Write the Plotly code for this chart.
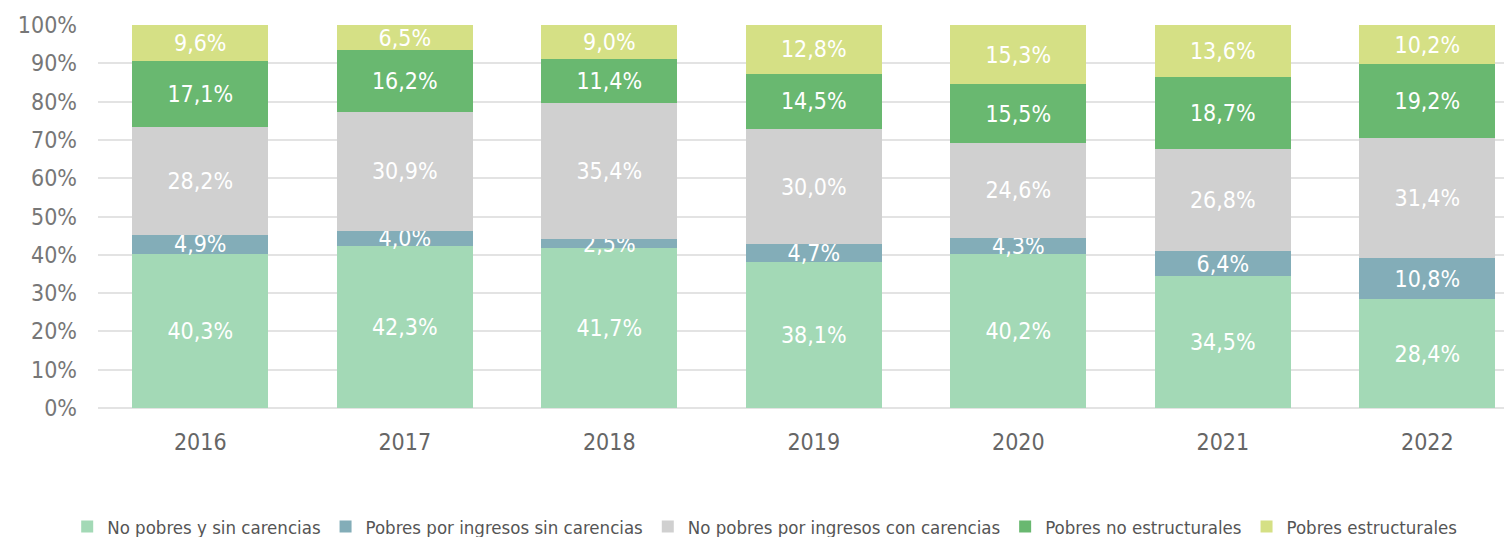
import plotly.graph_objects as go

years = ["2016", "2017", "2018", "2019", "2020", "2021", "2022"]
series_names = [
    "No pobres y sin carencias",
    "Pobres por ingresos sin carencias",
    "No pobres por ingresos con carencias",
    "Pobres no estructurales",
    "Pobres estructurales",
]
no_pobres_sin_carencias = [40.3, 42.3, 41.7, 38.1, 40.2, 34.5, 28.4]
pobres_ingresos_sin_carencias = [4.9, 4.0, 2.5, 4.7, 4.3, 6.4, 10.8]
no_pobres_con_carencias = [28.2, 30.9, 35.4, 30.0, 24.6, 26.8, 31.4]
pobres_no_estructurales = [17.1, 16.2, 11.4, 14.5, 15.5, 18.7, 19.2]
pobres_estructurales = [9.6, 6.5, 9.0, 12.8, 15.3, 13.6, 10.2]
colors = ["#a3d9b6", "#83adb8", "#d0d0d0", "#69b870", "#d5e085"]

all_series = [no_pobres_sin_carencias, pobres_ingresos_sin_carencias,
              no_pobres_con_carencias, pobres_no_estructurales, pobres_estructurales]

FONT = "DejaVu Sans Condensed, Liberation Sans Narrow, sans-serif"

fig = go.Figure()
for name, vals, col in zip(series_names, all_series, colors):
    fig.add_trace(go.Bar(
        x=years, y=vals, name=name, marker=dict(color=col, line=dict(width=0)),
        text=[f"{v:.1f}%".replace(".", ",") for v in vals],
        textposition="inside", insidetextanchor="middle",
        textfont=dict(color="white", size=23, family=FONT),
        constraintext="none", width=0.665,
    ))

fig.update_layout(
    barmode="stack",
    width=1504, height=560,
    margin=dict(l=90, r=0, t=17, b=160),
    paper_bgcolor="white", plot_bgcolor="white",
    font=dict(family=FONT, color="#666666"),
    uniformtext=dict(minsize=23, mode="show"),
    legend=dict(orientation="h", x=0.4715, xanchor="center", y=-0.261, yanchor="top",
                font=dict(size=18.5, color="#555555", family=FONT),
                traceorder="normal", itemwidth=30),
    showlegend=True,
)
fig.update_xaxes(range=[-0.5, 6.414], showline=False, ticks="", automargin=False,
                 tickfont=dict(size=23, color="#666666"), showgrid=False,
                 ticklabelstandoff=18)
fig.update_yaxes(range=[0, 100], tickvals=list(range(0, 101, 10)), automargin=False,
                 ticktext=[f"{v}%" for v in range(0, 101, 10)],
                 showgrid=True, gridcolor="#e3e3e3", gridwidth=2,
                 zeroline=True, zerolinecolor="#e3e3e3", zerolinewidth=2,
                 tickfont=dict(size=23, color="#777777"), ticks="", ticklabelstandoff=20)

fig.write_html("out.html")
